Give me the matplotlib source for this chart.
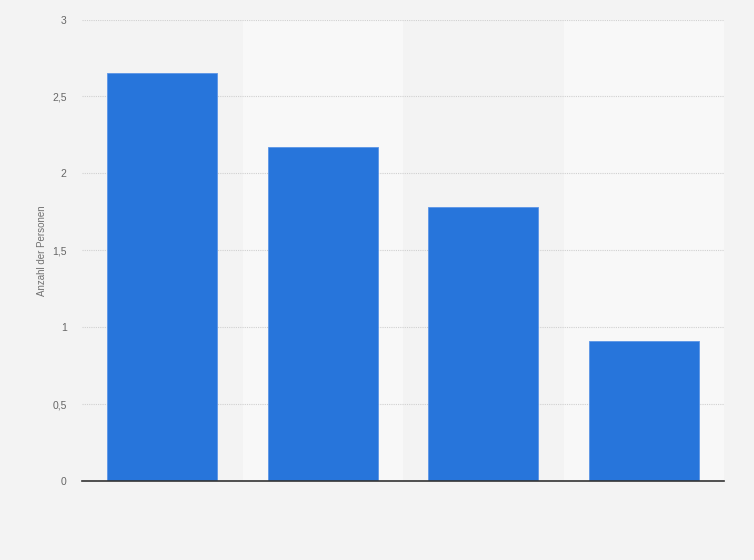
import matplotlib
matplotlib.use("Agg")
import matplotlib.pyplot as plt
import numpy as np

categories = ["", "", "", ""]
values = [2.65, 2.17, 1.78, 0.91]
yticks = [0, 0.5, 1, 1.5, 2, 2.5, 3]
ytick_labels = ["0", "0,5", "1", "1,5", "2", "2,5", "3"]

plt.rcParams['font.family'] = ['Liberation Sans', 'DejaVu Sans']

fig = plt.figure(figsize=(7.54, 5.60), dpi=100, facecolor="#f3f3f3")
ax = fig.add_axes([82/754, 1-481/560, 642/754, 461.5/560])
ax.set_facecolor("#f3f3f3")

x = np.arange(len(values))
for i in x:
    if i % 2 == 1:
        ax.axvspan(i-0.5, i+0.5, color="#f8f8f8", zorder=0, lw=0)

ax.set_ylim(0, 3)
ax.set_xlim(-0.5, len(values)-0.5)
ax.set_yticks(yticks)
ax.set_yticklabels(ytick_labels)
ax.yaxis.grid(True, linestyle=(0, (1, 1)), color="#d0d0d0", lw=0.8, zorder=1)
ax.set_axisbelow(True)

ax.bar(x, values, width=0.685, color="#2775db", edgecolor="#5b95e6", linewidth=0.6, zorder=3)

ax.set_xticks(x)
ax.set_xticklabels(categories)
ax.tick_params(axis='x', length=0)
ax.tick_params(axis='y', length=0, labelsize=7.5, labelcolor="#666666", pad=11)

for s in ["top", "right", "left"]:
    ax.spines[s].set_visible(False)
ax.spines["bottom"].set_color("#333333")
ax.spines["bottom"].set_linewidth(1.2)
ax.spines["bottom"].set_zorder(4)

ax.set_ylabel("Anzahl der Personen", fontsize=7, color="#707070", labelpad=4)

fig.savefig("out.png", dpi=100, facecolor=fig.get_facecolor())
